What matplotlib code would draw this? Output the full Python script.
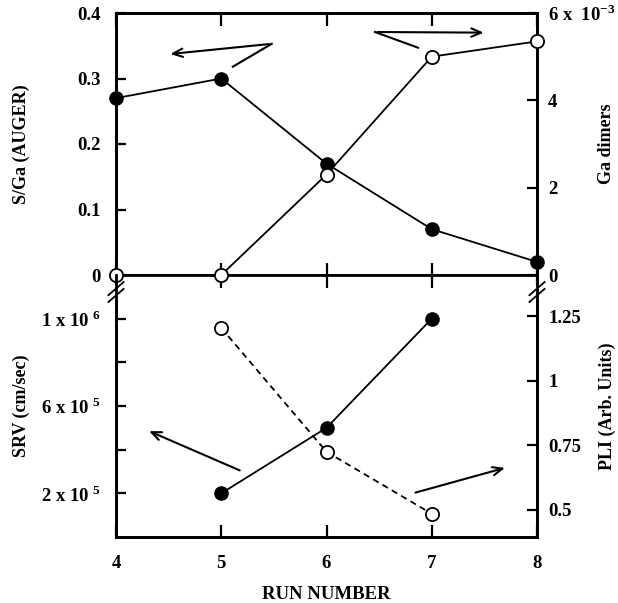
import matplotlib
matplotlib.use("Agg")
import matplotlib.pyplot as plt
from matplotlib.lines import Line2D

plt.rcParams["font.family"] = "Liberation Serif"
plt.rcParams["font.weight"] = "bold"
plt.rcParams["mathtext.fontset"] = "custom"
plt.rcParams["mathtext.rm"] = "Liberation Serif:bold"
plt.rcParams["mathtext.bf"] = "Liberation Serif:bold"

# --- data ---
run_top = [4, 5, 6, 7, 8]
s_ga = [0.27, 0.30, 0.17, 0.07, 0.02]
ga_dimers = [0.0, 0.0, 2.3e-3, 5.0e-3, 5.35e-3]

run_bottom = [5, 6, 7]
srv = [2.0e5, 5.0e5, 1.0e6]
pli = [1.205, 0.725, 0.485]

x_ticks = [4, 5, 6, 7, 8]
s_ga_ticks = [0, 0.1, 0.2, 0.3, 0.4]
s_ga_labels = ["0", "0.1", "0.2", "0.3", "0.4"]
dimer_ticks = [0, 2e-3, 4e-3, 6e-3]
dimer_labels = ["0", "2", "4", r"6 x  10$^{-3}$"]
srv_ticks = [2e5, 4e5, 6e5, 8e5, 1e6]
srv_labels = [r"2 x 10$^{\ 5}$", "", r"6 x 10$^{\ 5}$", "", r"1 x 10$^{\ 6}$"]
pli_ticks = [0.5, 0.75, 1.0, 1.25]
pli_labels = ["0.5", "0.75", "1", "1.25"]

W, H = 618, 603
fig = plt.figure(figsize=(W / 100, H / 100), dpi=100)
left, right = 116 / W, 537 / W
ax_top = fig.add_axes([left, (H - 275) / H, right - left, 262 / H])
ax_bot = fig.add_axes([left, (H - 537) / H, right - left, 262 / H], sharex=ax_top)
ax_top_r = ax_top.twinx()
ax_bot_r = ax_bot.twinx()

SPINE_W = 2.0
TICK = dict(direction="in", length=7, width=1.6, labelsize=13.5)

for ax in (ax_top, ax_bot, ax_top_r, ax_bot_r):
    for sp in ax.spines.values():
        sp.set_linewidth(SPINE_W)
    ax.tick_params(**TICK)
for ax in (ax_top, ax_bot):
    ax.tick_params(axis="y", pad=11)
for ax in (ax_top_r, ax_bot_r):
    ax.tick_params(axis="y", pad=8)

# top panel
ax_top.plot(run_top, s_ga, "-", color="black", lw=1.3, marker="o", ms=9.5,
            mfc="black", mec="black", clip_on=False, zorder=5)
ax_top_r.plot(run_top, ga_dimers, "-", color="black", lw=1.3, marker="o", ms=9.5,
              mfc="white", mec="black", mew=1.3, clip_on=False, zorder=5)
ax_top.set_xlim(4, 8)
ax_top.set_ylim(0, 0.4)
ax_top_r.set_ylim(0, 6e-3)
ax_top.set_yticks(s_ga_ticks)
ax_top.set_yticklabels(s_ga_labels)
ax_top_r.set_yticks(dimer_ticks)
ax_top_r.set_yticklabels(dimer_labels)
ax_top.set_xticks(x_ticks)
ax_top.tick_params(axis="x", top=True, bottom=True, labelbottom=False, length=9)
ax_top.set_ylabel("S/Ga (AUGER)", fontsize=13, fontweight="bold")
ax_top_r.set_ylabel("Ga dimers", fontsize=13, fontweight="bold")

# bottom panel
ax_bot.plot(run_bottom, srv, "-", color="black", lw=1.3, marker="o", ms=9.5,
            mfc="black", mec="black", zorder=5)
ax_bot_r.plot(run_bottom, pli, "--", color="black", lw=1.3, marker="o", ms=9.5,
              mfc="white", mec="black", mew=1.3, zorder=5, dashes=(3.5, 2.5))
ax_bot.set_ylim(0, 1.2e6)
ax_bot_r.set_ylim(0.395, 1.41)
ax_bot.set_yticks(srv_ticks)
ax_bot.set_yticklabels(srv_labels)
ax_bot_r.set_yticks(pli_ticks)
ax_bot_r.set_yticklabels(pli_labels)
ax_bot.set_xticks(x_ticks)
# ticks along the shared line point down into the lower panel too
ax_bot.tick_params(axis="x", pad=13, top=True, length=9)
for ax in (ax_bot, ax_bot_r):
    ax.spines["top"].set_visible(False)
ax_bot.set_xlabel("RUN NUMBER", fontsize=13.5, fontweight="bold", labelpad=10)
ax_bot.set_ylabel("SRV (cm/sec)", fontsize=13, fontweight="bold")
ax_bot_r.set_ylabel("PLI (Arb. Units)", fontsize=13, fontweight="bold")

for ax in (ax_top, ax_bot):
    ax.yaxis.set_label_coords(-0.226, 0.5)
    ax.yaxis.label.set_va("center")
for ax in (ax_top_r, ax_bot_r):
    ax.yaxis.set_label_coords(1.166, 0.5)
    ax.yaxis.label.set_va("center")

# pointer arrows
arrow = dict(arrowstyle="->,head_length=0.7,head_width=0.3", color="black", lw=1.5)
ax_top.plot([5.11, 5.48], [0.318, 0.353], color="black", lw=1.5)
ax_top.annotate("", xy=(4.49, 0.337), xytext=(5.48, 0.353), arrowprops=arrow)
ax_top.plot([6.87, 6.46], [0.347, 0.371], color="black", lw=1.5)
ax_top.annotate("", xy=(7.52, 0.370), xytext=(6.46, 0.371), arrowprops=arrow)
ax_bot.annotate("", xy=(4.29, 4.9e5), xytext=(5.20, 3.0e5), arrowprops=arrow)
ax_bot.annotate("", xy=(7.72, 3.2e5), xytext=(6.82, 2.0e5), arrowprops=arrow)

# axis break marks on both sides
for xb in (0.0, 1.0):
    yb = 0.935
    ax_bot.add_line(Line2D([xb, xb], [yb - 0.02, yb + 0.02], transform=ax_bot.transAxes,
                           color="white", lw=4, clip_on=False, zorder=10))
    for dy in (-0.013, 0.013):
        ax_bot.add_line(Line2D([xb - 0.018, xb + 0.018], [yb + dy - 0.025, yb + dy + 0.025],
                               transform=ax_bot.transAxes, color="black", lw=1.3,
                               clip_on=False, zorder=11))

fig.savefig("out.png", dpi=100)
